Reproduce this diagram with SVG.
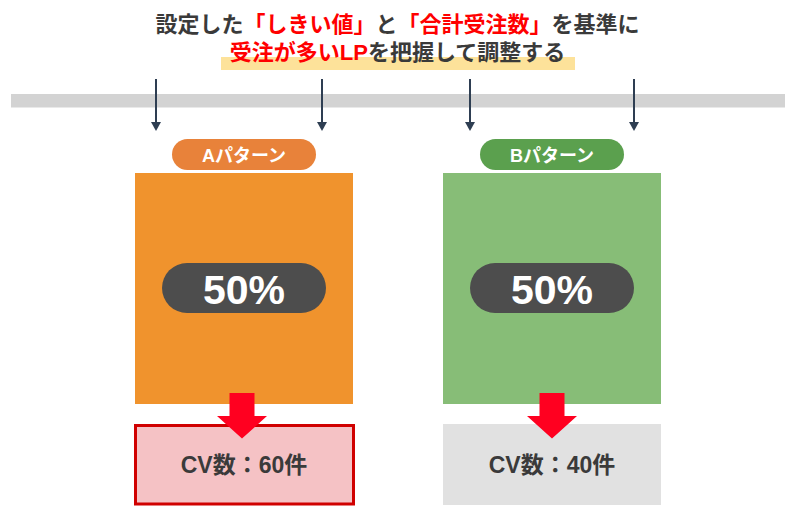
<svg xmlns="http://www.w3.org/2000/svg" width="795" height="518" viewBox="0 0 795 518">
<defs>
<style>
text{font-family:"Liberation Sans","Noto Sans CJK JP",sans-serif;font-weight:bold;text-anchor:middle}
.title{font-size:22px;fill:#3a3a3a}
.red{fill:#ff0000}
.pilltxt{font-size:18px;fill:#ffffff}
.pct{font-size:41px;fill:#ffffff}
.cv{font-size:23px;fill:#3a3a3a}
.tick{stroke:#2e3e52;stroke-width:2}
.redarrow{fill:#ff0020}
</style>
<marker id="ah" markerWidth="9" markerHeight="10" viewBox="0 0 9 10" refX="0" refY="5" orient="auto" markerUnits="userSpaceOnUse">
<path d="M0,0 L9,5 L0,10 Z" fill="#2e3e52"/>
</marker>
</defs>
<rect width="795" height="518" fill="#ffffff"/>
<g id="title">
<rect x="221" y="57" width="354" height="13" fill="#fde29a"/>
<text class="title" x="397.5" y="32">設定した<tspan class="red">「しきい値」</tspan>と<tspan class="red">「合計受注数」</tspan>を基準に</text>
<text class="title" x="397.5" y="60"><tspan class="red">受注が多いLP</tspan>を把握して調整する</text>
</g>
<g id="timeline">
<rect x="11" y="94" width="774" height="13.5" fill="#d3d3d3"/>
</g>
<g id="patternA">
<rect x="135" y="173" width="218" height="231" fill="#f0932d"/>
<rect x="172" y="139" width="144" height="31" rx="15.5" fill="#e8823a"/>
<text class="pilltxt" x="244" y="161.5">Aパターン</text>
<rect x="162" y="263" width="164" height="50" rx="25" fill="#4d4d4d"/>
<text class="pct" x="244" y="304">50%</text>
</g>
<g id="patternB">
<rect x="443" y="173" width="218" height="231" fill="#87bd77"/>
<rect x="480" y="139" width="144" height="31" rx="15.5" fill="#5ba04e"/>
<text class="pilltxt" x="552" y="161.5">Bパターン</text>
<rect x="470" y="263" width="164" height="50" rx="25" fill="#4d4d4d"/>
<text class="pct" x="552" y="304">50%</text>
</g>
<g id="resultA">
<rect x="135.5" y="425.5" width="218" height="78.5" fill="#f5c2c5" stroke="#d00000" stroke-width="3"/>
<text class="cv" x="244" y="473">CV数：60件</text>
</g>
<g id="resultB">
<rect x="443" y="424" width="218" height="81" fill="#e1e1e1"/>
<text class="cv" x="552" y="473">CV数：40件</text>
</g>
<g id="connectors">
<line class="tick" x1="156" y1="79" x2="156" y2="122" marker-end="url(#ah)"/>
<line class="tick" x1="322" y1="79" x2="322" y2="122" marker-end="url(#ah)"/>
<line class="tick" x1="470" y1="79" x2="470" y2="122" marker-end="url(#ah)"/>
<line class="tick" x1="634" y1="79" x2="634" y2="122" marker-end="url(#ah)"/>
<path class="redarrow" d="M229.5,393 L254.5,393 L254.5,416 L267,416 L242,438.5 L217,416 L229.5,416 Z"/>
<path class="redarrow" d="M539.5,393 L564.5,393 L564.5,416 L577,416 L552,438.5 L527,416 L539.5,416 Z"/>
</g>
</svg>
